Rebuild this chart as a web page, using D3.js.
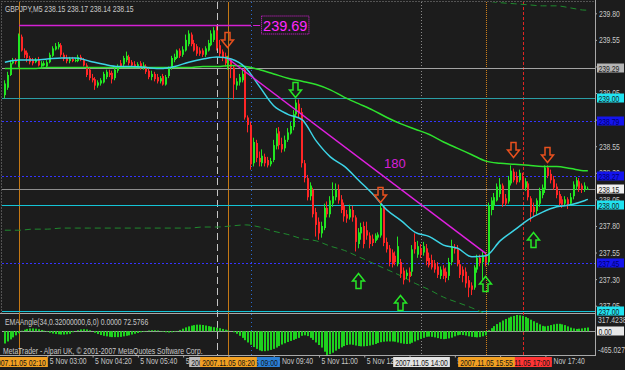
<!DOCTYPE html>
<html>
<head>
<meta charset="utf-8">
<script src="https://cdn.jsdelivr.net/npm/d3@7"></script>
<style>
  body { margin: 0; background: #1c1c1c; }
  svg { display: block; }
  text { font-family: "Liberation Sans", Arial, sans-serif; }
</style>
</head>
<body>
<div id="app"></div>
<script>
// GBPJPY M5, one bar every 5 minutes from 2007.11.05 01:45
const firstBar = '01:45'
const opens = [239.03,239.10,239.22,239.33,239.35,
  239.30,239.58,239.45,239.43,239.38,239.36,239.34,239.37,239.30,239.31,
  239.30,239.34,239.40,239.46,239.48,239.50,239.41,239.38,239.35,239.37,
  239.35,239.35,239.39,239.36,239.31,239.27,239.19,239.18,239.12,239.14,
  239.15,239.20,239.24,239.24,239.19,239.26,239.33,239.32,239.36,239.39,
  239.34,239.32,239.30,239.33,239.29,239.30,239.26,239.20,239.23,239.20,
  239.16,239.21,239.13,239.21,239.29,239.36,239.38,239.45,239.41,239.45,
  239.51,239.60,239.52,239.49,239.45,239.45,239.41,239.45,239.50,239.55,
  239.64,239.50,239.44,239.40,239.33,239.36,239.29,239.12,239.15,239.17,
  239.27,238.82,238.75,238.39,238.58,238.44,238.39,238.45,238.42,238.38,
  238.42,238.55,238.69,238.57,238.53,238.61,238.67,238.73,238.85,238.95,
  238.87,238.39,238.25,238.08,238.14,237.93,237.84,237.73,237.78,237.97,
  237.91,238.01,238.07,238.14,238.05,237.99,237.91,237.88,237.95,237.88,
  237.63,237.73,237.80,237.76,237.71,237.68,237.66,237.69,237.71,237.97,
  237.65,237.59,237.55,237.52,237.44,237.46,237.38,237.33,237.37,237.37,
  237.65,237.53,237.59,237.55,237.59,237.50,237.48,237.45,237.42,237.33,
  237.40,237.37,237.33,237.46,237.60,237.58,237.44,237.39,237.37,237.29,
  237.24,237.22,237.39,237.50,237.46,237.52,237.46,237.95,237.99,238.04,
  238.10,238.18,238.06,238.03,238.20,238.31,238.27,238.23,238.27,238.16,
  238.20,238.06,237.98,237.94,238.01,238.09,238.14,238.35,238.29,238.24,
  238.17,238.10,238.05,238.01,238.05,238.01,238.08,238.17,238.22,238.18,
  238.14,238.15]
const highs = [239.17,239.25,239.36,239.38,239.38,
  239.61,239.60,239.47,239.45,239.40,239.38,239.38,239.39,239.35,239.35,
  239.36,239.43,239.49,239.52,239.53,239.52,239.43,239.41,239.39,239.39,
  239.38,239.41,239.41,239.38,239.33,239.29,239.23,239.20,239.17,239.19,
  239.25,239.27,239.27,239.26,239.29,239.32,239.36,239.40,239.44,239.41,
  239.36,239.35,239.34,239.35,239.34,239.32,239.29,239.26,239.25,239.23,
  239.21,239.23,239.22,239.30,239.40,239.42,239.46,239.47,239.49,239.60,
  239.64,239.62,239.55,239.51,239.48,239.47,239.49,239.55,239.64,239.67,
  239.69,239.55,239.46,239.43,239.40,239.38,239.31,239.19,239.23,239.27,
  239.30,238.84,238.78,238.63,238.61,238.50,238.52,238.48,238.45,238.44,
  238.61,238.72,238.73,238.63,238.65,238.72,238.78,238.89,238.99,238.99,
  238.91,238.42,238.28,238.21,238.16,237.97,237.88,237.84,238.01,238.03,
  238.08,238.21,238.20,238.19,238.09,238.02,237.95,238.00,237.99,237.90,
  237.78,237.83,237.84,237.84,237.74,237.72,237.73,237.74,238.01,237.99,
  237.69,237.62,237.58,237.56,237.70,237.49,237.41,237.39,237.41,237.62,
  237.73,237.66,237.63,237.65,237.63,237.55,237.53,237.48,237.46,237.42,
  237.43,237.41,237.50,237.67,237.63,237.62,237.48,237.42,237.41,237.33,
  237.27,237.43,237.53,237.53,237.56,237.55,238.02,238.07,238.11,238.20,
  238.25,238.20,238.10,238.27,238.37,238.34,238.31,238.33,238.30,238.25,
  238.22,238.08,238.02,238.06,238.16,238.19,238.37,238.37,238.33,238.27,
  238.20,238.13,238.08,238.08,238.07,238.11,238.22,238.26,238.25,238.20,
  238.21,238.17]
const lows = [239.00,239.08,239.21,239.32,239.32,
  239.29,239.44,239.38,239.34,239.32,239.31,239.33,239.30,239.28,239.30,
  239.29,239.33,239.39,239.45,239.46,239.39,239.35,239.33,239.33,239.34,
  239.34,239.34,239.35,239.30,239.20,239.17,239.15,239.08,239.10,239.12,
  239.14,239.18,239.20,239.14,239.17,239.24,239.29,239.30,239.34,239.31,
  239.30,239.29,239.29,239.27,239.27,239.23,239.18,239.17,239.16,239.14,
  239.14,239.12,239.12,239.19,239.27,239.34,239.37,239.38,239.39,239.44,
  239.49,239.49,239.44,239.40,239.40,239.39,239.39,239.44,239.49,239.53,
  239.45,239.39,239.35,239.30,239.27,239.19,238.99,239.08,239.12,239.15,
  238.80,238.68,238.33,238.36,238.40,238.36,238.36,238.36,238.35,238.36,
  238.40,238.52,238.52,238.49,238.50,238.59,238.66,238.70,238.83,238.82,
  238.35,238.21,238.04,238.04,237.88,237.70,237.67,237.69,237.76,237.88,
  237.88,237.98,238.04,238.01,237.92,237.84,237.83,237.86,237.84,237.56,
  237.59,237.67,237.59,237.67,237.59,237.61,237.64,237.67,237.69,237.61,
  237.55,237.42,237.41,237.43,237.42,237.31,237.25,237.30,237.27,237.33,
  237.54,237.50,237.50,237.52,237.43,237.41,237.39,237.36,237.31,237.30,
  237.30,237.27,237.29,237.43,237.54,237.42,237.31,237.27,237.22,237.13,
  237.15,237.20,237.36,237.42,237.29,237.42,237.43,237.90,237.95,238.03,
  238.07,237.98,237.99,238.01,238.18,238.21,238.19,238.21,238.14,238.13,
  238.04,237.84,237.89,237.91,237.98,238.06,238.11,238.25,238.20,238.14,
  238.06,237.98,237.97,237.99,237.96,237.99,238.05,238.14,238.12,238.11,
  238.12,238.14]
const closes = [239.14,239.22,239.33,239.35,239.34,
  239.59,239.45,239.41,239.38,239.34,239.33,239.36,239.31,239.33,239.33,
  239.34,239.41,239.47,239.49,239.51,239.41,239.37,239.35,239.37,239.35,
  239.36,239.39,239.36,239.31,239.22,239.19,239.17,239.12,239.15,239.17,
  239.23,239.25,239.22,239.18,239.27,239.30,239.30,239.38,239.40,239.33,
  239.31,239.30,239.32,239.29,239.31,239.25,239.20,239.23,239.18,239.16,
  239.19,239.13,239.20,239.29,239.38,239.39,239.45,239.40,239.46,239.55,
  239.61,239.51,239.45,239.42,239.42,239.41,239.47,239.52,239.61,239.64,
  239.47,239.42,239.38,239.33,239.36,239.29,239.13,239.16,239.20,239.23,
  238.82,238.75,238.38,238.59,238.44,238.40,238.46,238.39,238.37,238.41,
  238.56,238.67,238.56,238.52,238.61,238.68,238.74,238.85,238.96,238.87,
  238.39,238.25,238.07,238.18,237.91,237.81,237.73,237.80,237.97,237.91,
  238.04,238.08,238.14,238.04,237.95,237.89,237.87,237.96,237.88,237.65,
  237.74,237.79,237.63,237.71,237.63,237.64,237.71,237.72,237.97,237.64,
  237.58,237.46,237.44,237.46,237.61,237.35,237.29,237.36,237.32,237.58,
  237.58,237.61,237.53,237.61,237.47,237.43,237.41,237.39,237.34,237.39,
  237.33,237.31,237.46,237.61,237.58,237.44,237.34,237.33,237.26,237.22,
  237.20,237.41,237.50,237.45,237.52,237.46,237.99,238.04,238.07,238.17,
  238.19,238.01,238.01,238.23,238.32,238.23,238.21,238.30,238.16,238.22,
  238.07,237.93,237.93,238.04,238.13,238.16,238.35,238.27,238.23,238.16,
  238.09,238.01,238.00,238.05,238.00,238.07,238.19,238.23,238.15,238.14,
  238.18,238.15]

// moving averages read at every 5th bar (bar positions in the arrays above)
const maIndex = [0,5,10,15,20,25,30,35,40,45,50,55,60,65,70,75,80,85,90,95,100,
  105,110,115,120,125,130,135,140,145,150,155,160,165,170,175,180,185,190,195,200,205,206]
const emaFast = [239.34,239.36,239.36,239.37,239.38,239.38,239.35,239.32,239.30,239.30,239.29,
  239.28,239.30,239.34,239.37,239.39,239.37,239.29,239.11,238.93,238.85,238.80,238.60,
  238.45,238.36,238.23,238.10,237.95,237.85,237.74,237.70,237.62,237.59,237.51,237.52,
  237.66,237.76,237.86,237.93,237.98,238.00,238.04,238.05]
const emaSlow = [239.28,239.28,239.28,239.29,239.29,239.29,239.29,239.29,239.29,239.29,239.29,
  239.29,239.29,239.29,239.30,239.30,239.31,239.30,239.27,239.23,239.19,239.16,239.13,
  239.08,239.01,238.95,238.89,238.82,238.76,238.71,238.66,238.59,238.53,238.47,238.41,
  238.39,238.38,238.37,238.36,238.36,238.34,238.32,238.32]
const envLow = [237.76,237.76,237.77,237.77,237.78,237.78,237.78,237.78,237.78,237.78,237.78,
  237.78,237.78,237.78,237.79,237.79,237.80,237.81,237.79,237.75,237.72,237.68,237.66,
  237.61,237.57,237.51,237.45,237.39,237.33,237.26,237.20,237.13,237.08,237.03,236.97,
  236.91,236.89,236.88,236.87,236.86,236.86,236.84,236.82]
const envHighIndex = [165,170,175,180,185,190,195,200,205,206]
const envHigh = [239.97,239.92,239.90,239.89,239.88,239.87,239.87,239.85,239.83,239.83]

// EMAAngle histogram, one value per bar
const angle = [-240,-200,-160,-120,-80,
  -40,10,30,45,55,55,50,40,25,10,
  -10,-30,-45,-55,-60,-65,-65,-60,-50,-20,
  0,20,35,40,35,20,0,-30,-55,-75,
  -90,-100,-110,-115,-115,-115,-110,-100,-90,-80,
  -65,-50,-35,-20,-10,5,15,20,20,15,
  5,-10,-20,-25,-20,-10,5,25,50,75,
  95,110,120,128,128,122,112,100,90,80,
  70,60,45,30,15,0,-20,-50,-90,-130,
  -175,-220,-265,-310,-345,-375,-390,-390,-380,-365,
  -345,-320,-290,-260,-235,-210,-190,-170,-150,-130,
  -90,-80,-95,-130,-170,-220,-270,-320,-400,-465.0273,
  -450,-420,-380,-345,-315,-290,-270,-260,-265,-280,
  -290,-295,-295,-290,-280,-265,-250,-230,-215,-205,
  -200,-200,-200,-205,-220,-235,-245,-250,-245,-225,
  -200,-175,-150,-130,-110,-105,-110,-120,-135,-150,
  -155,-150,-140,-125,-100,-80,-70,-75,-85,-100,
  -110,-115,-120,-115,-100,-80,20,60,100,140,
  175,210,240,265,285,300,317.4238,312,300,280,
  255,225,195,165,135,105,95,105,120,135,
  145,145,135,120,95,70,55,45,50,55,
  66,72.5766]
const angleRange = [-465.0273, 317.4238]

const priceTicks = [237.05,237.30,237.55,237.80,238.05,238.30,238.55,238.80,239.05,239.30,239.55,239.80]
const timeTicks = ['03:00','04:20','05:40','07:00','08:20','09:40','11:00','12:20','13:40','15:00','16:20','17:40']

const levelPrices = [239.29, 239.00, 238.79, 238.27, 238.15, 238.00, 237.45, 237.00]
const levelKinds = ['gray', 'teal', 'blue', 'blue', 'bid', 'cyan', 'blue', 'cyan']
const markerTimes = ['08:00', '09:00', '17:00', '14:00', '02:10', '08:20', '15:55']
const markerKinds = ['gray', 'blue', 'red', 'white', 'orange', 'orange', 'orangeDot']
const highLineTimes = ['02:10', '09:00']
const highLinePrice = 239.69
const trendTimes = ['08:20', '15:55']
const trendPrices = [239.37, 237.54]
const trendLabel = '180'
const trendLabelTime = '12:55'
const trendLabelPrice = 238.39
const arrowTimes = ['08:20', '10:20', '12:50', '16:45', '17:45', '12:10', '13:25', '15:55', '17:20']
const arrowPrices = [239.55, 239.08, 238.09, 238.51, 238.47, 237.28, 237.08, 237.25, 237.67]
const arrowDirs = ['down', 'down', 'down', 'down', 'down', 'up', 'up', 'up', 'up']
const arrowKinds = ['sell', 'buy', 'sell', 'sell', 'sell', 'buy', 'buy', 'buy', 'buy']

const W = 625, H = 370
const sx = 0.76            // horizontal squeeze for the small terminal font
const fs = '9px'
const day = '2007.11.05 '
const parse = d3.utcParse('%Y.%m.%d %H:%M')
const t = s => parse(day + s)
const barTimes = opens.map((_, k) => new Date(+t(firstBar) + k * 300000))

const x = d3.scaleUtc().domain([t('02:10'), t('17:40')]).range([19, 545.4])
const y = d3.scaleLinear().domain([237.05, 239.80]).range([305.7, 13.3])
const yi = d3.scaleLinear().domain(angleRange).range([355, 315])

const levelStyle = {
  gray: { stroke: '#a4a4a4', dash: null, box: '#b4b4b4', text: '#1c1c1c' },
  teal: { stroke: '#2a9ea6', dash: null, box: '#20e2f0', text: '#1c1c1c' },
  blue: { stroke: '#3434ff', dash: '2,2', box: '#1414ee', text: '#00006a' },
  bid: { stroke: '#8e8e8e', dash: null, box: '#f0f0f0', text: '#1c1c1c' },
  cyan: { stroke: '#14c4d6', dash: null, box: '#20e2f0', text: '#1c1c1c' }
}
const markerStyle = {
  orange: { stroke: '#c47814', dash: null, box: '#f2a022' },
  orangeDot: { stroke: '#d08018', dash: '1,1', box: '#f2a022' },
  gray: { stroke: '#c4c4c4', dash: '7,4', box: '#bcbcbc' },
  blue: { stroke: '#2a6cd0', dash: '1,3', box: '#2a80d8' },
  white: { stroke: '#8a8a8a', dash: '1,2', box: '#e4e4e4' },
  red: { stroke: '#e02424', dash: '3,2', box: '#ff3434' }
}
const up = '#22e622', down = '#ff2626'

const svg = d3.select('#app').append('svg').attr('width', W).attr('height', H)
svg.append('rect').attr('width', W).attr('height', H).attr('fill', '#1c1c1c')
const defs = svg.append('defs')
defs.append('clipPath').attr('id', 'clip-main')
  .append('rect').attr('x', 2).attr('y', 2).attr('width', 593).attr('height', 311)
defs.append('clipPath').attr('id', 'clip-ind')
  .append('rect').attr('x', 2).attr('y', 314).attr('width', 593).attr('height', 41)

// small squeezed text, like the terminal font
const label = (g, x0, y0, str, color = '#c8c8c8', anchor = 'start') => g.append('text')
  .attr('transform', `translate(${x0},${y0}) scale(${sx},1)`)
  .attr('text-anchor', anchor).style('font-size', fs).attr('fill', color).text(str)

// frames
svg.append('rect').attr('x', 1.5).attr('y', 1.5).attr('width', 594).attr('height', 312)
  .attr('fill', 'none').attr('stroke', '#8a8a8a').attr('stroke-dasharray', '1,2')
svg.append('line').attr('x1', 0).attr('x2', 595).attr('y1', 313.5).attr('y2', 313.5).attr('stroke', '#a8a8a8')
svg.append('line').attr('x1', 0).attr('x2', 595).attr('y1', 355.5).attr('y2', 355.5).attr('stroke', '#a8a8a8')
svg.append('line').attr('x1', 595.5).attr('x2', 595.5).attr('y1', 0).attr('y2', 356).attr('stroke', '#a8a8a8')

// vertical markers
svg.append('g').selectAll('line').data(markerTimes).join('line')
  .attr('x1', d => Math.round(x(t(d))) + 0.5).attr('x2', d => Math.round(x(t(d))) + 0.5)
  .attr('y1', 2).attr('y2', 355)
  .attr('stroke', (d, i) => markerStyle[markerKinds[i]].stroke)
  .attr('stroke-dasharray', (d, i) => markerStyle[markerKinds[i]].dash)

const main = svg.append('g').attr('clip-path', 'url(#clip-main)')

// horizontal levels
main.selectAll('line.level').data(levelPrices).join('line').attr('class', 'level')
  .attr('x1', 2).attr('x2', 595)
  .attr('y1', d => Math.round(y(d)) + 0.5).attr('y2', d => Math.round(y(d)) + 0.5)
  .attr('stroke', (d, i) => levelStyle[levelKinds[i]].stroke)
  .attr('stroke-dasharray', (d, i) => levelStyle[levelKinds[i]].dash)

// envelopes
const line = d3.line().curve(d3.curveMonotoneX)
main.append('path')
  .attr('d', line(maIndex.map((k, i) => [x(barTimes[k]), y(envLow[i])])))
  .attr('fill', 'none').attr('stroke', '#1f8a2e').attr('stroke-dasharray', '6,4')
main.append('path')
  .attr('d', line(envHighIndex.map((k, i) => [x(barTimes[k]), y(envHigh[i])])))
  .attr('fill', 'none').attr('stroke', '#1f8a2e').attr('stroke-dasharray', '6,4')

// candles
const bars = d3.range(opens.length)
const col = k => closes[k] >= opens[k] ? up : down
main.selectAll('line.wick').data(bars).join('line').attr('class', 'wick')
  .attr('x1', k => Math.round(x(barTimes[k])) - 0.5).attr('x2', k => Math.round(x(barTimes[k])) - 0.5)
  .attr('y1', k => y(highs[k])).attr('y2', k => y(lows[k]))
  .attr('stroke', col)
main.selectAll('rect.body').data(bars).join('rect').attr('class', 'body')
  .attr('x', k => Math.round(x(barTimes[k])) - 1).attr('width', 2)
  .attr('y', k => y(Math.max(opens[k], closes[k])))
  .attr('height', k => Math.max(1, Math.abs(y(opens[k]) - y(closes[k]))))
  .attr('fill', col)

// moving averages
main.append('path')
  .attr('d', line(maIndex.map((k, i) => [x(barTimes[k]), y(emaSlow[i])])))
  .attr('fill', 'none').attr('stroke', '#2ee22e').attr('stroke-width', 1.5)
main.append('path')
  .attr('d', line(maIndex.map((k, i) => [x(barTimes[k]), y(emaFast[i])])))
  .attr('fill', 'none').attr('stroke', '#3cd4e6').attr('stroke-width', 1.5)

// trend line and high line
main.append('line')
  .attr('x1', x(t(trendTimes[0]))).attr('y1', y(trendPrices[0]))
  .attr('x2', x(t(trendTimes[1]))).attr('y2', y(trendPrices[1]))
  .attr('stroke', '#e020e0').attr('stroke-width', 1.5)
main.append('text').attr('x', x(t(trendLabelTime))).attr('y', y(trendLabelPrice) + 5)
  .attr('fill', '#d820d8').style('font-size', '13px').text(trendLabel)
const hx0 = x(t(highLineTimes[0])), hx1 = x(t(highLineTimes[1])), hy = Math.round(y(highLinePrice)) + 0.5
main.append('line').attr('x1', hx0).attr('x2', hx1).attr('y1', hy).attr('y2', hy)
  .attr('stroke', '#d420d4').attr('stroke-width', 1.5)
main.append('line').attr('x1', hx1 + 2).attr('x2', hx1 + 9).attr('y1', hy).attr('y2', hy)
  .attr('stroke', '#d420d4')
const hl = main.append('text').attr('x', hx1 + 12).attr('y', hy + 5)
  .attr('fill', '#ff28ff').style('font-size', '14.5px').text(highLinePrice.toFixed(2))
const hb = hl.node().getBBox()
main.append('rect')
  .attr('x', hb.x - 1.5).attr('y', hy - 9.5).attr('width', hb.width + 3).attr('height', 18)
  .attr('fill', 'none').attr('stroke', '#e020e0').attr('stroke-dasharray', '1,1')

// arrows
const arrowPath = dir => {
  const s = dir === 'down' ? 1 : -1
  return d3.line()([[-2.5, -7.5 * s], [2.5, -7.5 * s], [2.5, 0], [6, 0], [0, 7.5 * s], [-6, 0], [-2.5, 0]]) + 'Z'
}
main.selectAll('path.arrow').data(arrowTimes).join('path').attr('class', 'arrow')
  .attr('transform', (d, i) => `translate(${Math.round(x(t(d))) - 0.5},${Math.round(y(arrowPrices[i]))})`)
  .attr('d', (d, i) => arrowPath(arrowDirs[i]))
  .attr('fill', 'none').attr('stroke-width', 1.5)
  .attr('stroke', (d, i) => arrowKinds[i] === 'sell' ? '#e8501e' : '#26e626')

// indicator window
const ind = svg.append('g').attr('clip-path', 'url(#clip-ind)')
ind.append('line').attr('x1', 2).attr('x2', 595)
  .attr('y1', Math.round(yi(0)) + 0.5).attr('y2', Math.round(yi(0)) + 0.5).attr('stroke', '#a0a0a0')
ind.selectAll('rect').data(bars).join('rect')
  .attr('x', k => Math.round(x(barTimes[k])) - 1).attr('width', 2)
  .attr('y', k => Math.min(yi(0), yi(angle[k])))
  .attr('height', k => Math.abs(yi(angle[k]) - yi(0)))
  .attr('fill', '#1ed21e')

// text in windows
const fmt2 = d3.format('.2f')
const last = opens.length - 1
label(svg, 5, 12, `GBPJPY,M5  ${fmt2(opens[last])} ${fmt2(highs[last])} ${fmt2(lows[last])} ${fmt2(closes[last])}`)
label(svg, 5, 325, `EMAAngle(34,0.32000000,6,0) 0.0000 ${angle[last].toFixed(4)}`)
label(svg, 3, 354, 'MetaTrader - Alpari UK, © 2001-2007 MetaQuotes Software Corp.')

// price axis
const ay = svg.append('g').attr('transform', 'translate(595,0)')
  .call(d3.axisRight(y).tickValues(priceTicks).tickSize(2).tickPadding(4).tickFormat(fmt2))
ay.select('.domain').remove()
ay.selectAll('line').attr('stroke', '#a8a8a8')
ay.selectAll('text').attr('transform', `scale(${sx},1)`).attr('x', 4 / sx)
  .style('font-size', fs).attr('fill', '#c8c8c8').style('font-family', null)

const boxes = svg.append('g')
const priceBox = (value, yPos, fill, color) => {
  const yy = Math.round(yPos)
  boxes.append('rect').attr('x', 597).attr('y', yy - 4.5).attr('width', 27).attr('height', 9).attr('fill', fill)
  label(boxes, 598.5, yy + 3.5, value, color)
}
levelPrices.forEach((p, i) => {
  const s = levelStyle[levelKinds[i]]
  priceBox(fmt2(p), y(p), s.box, s.text)
})
label(svg, 598, 323, angleRange[1].toFixed(4))
label(svg, 598, 353, angleRange[0].toFixed(4))
priceBox('0.00', yi(0), '#e8e8e8', '#1c1c1c')

// time axis
const ax = svg.append('g').attr('transform', 'translate(0,355.5)')
  .call(d3.axisBottom(x).tickValues(timeTicks.map(t)).tickSize(2).tickPadding(1)
    .tickFormat(d3.utcFormat('%-d %b %H:%M')))
ax.select('.domain').remove()
ax.selectAll('line').attr('stroke', '#a8a8a8')
ax.selectAll('text').attr('text-anchor', 'start').attr('x', 2 / sx).attr('dy', '0.62em')
  .attr('transform', `scale(${sx},1)`)
  .style('font-size', fs).attr('fill', '#c8c8c8').style('font-family', null)

const stamp = d3.utcFormat('%Y.%m.%d %H:%M')
markerTimes.forEach((d, i) => {
  const cx = Math.round(x(t(d))) + 0.5
  const g = svg.append('g')
  const r = g.append('rect').attr('y', 357).attr('height', 10).attr('fill', markerStyle[markerKinds[i]].box)
  const tx = label(g, cx, 365.5, stamp(t(d)), '#141414', 'middle')
  const w = tx.node().getComputedTextLength() * sx + 4
  r.attr('x', cx - w / 2).attr('width', w)
})
</script>
</body>
</html>
